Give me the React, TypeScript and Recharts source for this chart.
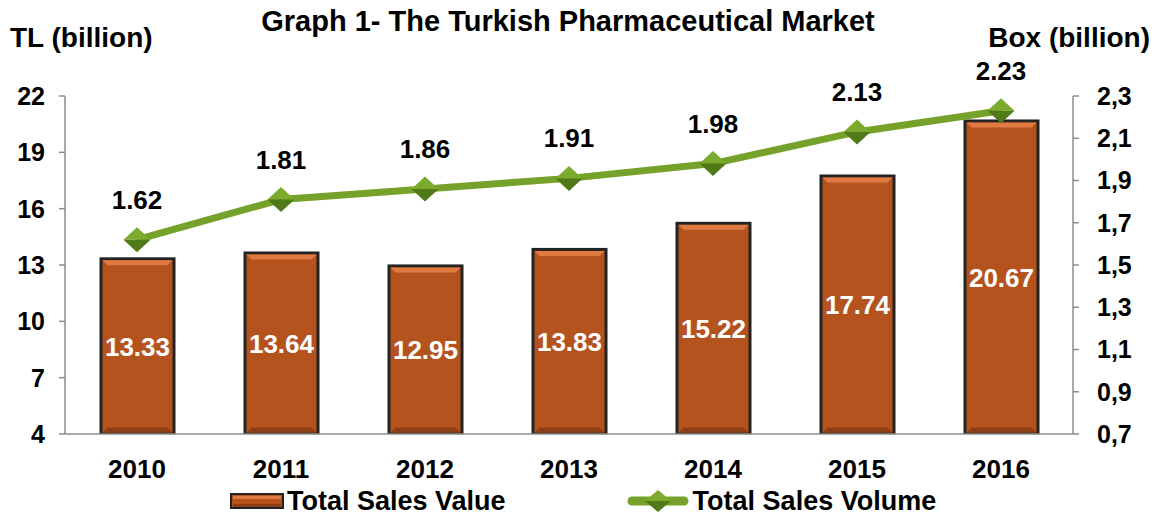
import React from 'react';
import {
  ComposedChart,
  Bar,
  Line,
  XAxis,
  YAxis,
  LabelList,
  Legend,
} from 'recharts';

const years = ['2010', '2011', '2012', '2013', '2014', '2015', '2016'];
const salesValue = [13.33, 13.64, 12.95, 13.83, 15.22, 17.74, 20.67];
const salesVolume = [1.62, 1.81, 1.86, 1.91, 1.98, 2.13, 2.23];
const leftTicks = [4, 7, 10, 13, 16, 19, 22];
const rightTicks = [0.7, 0.9, 1.1, 1.3, 1.5, 1.7, 1.9, 2.1, 2.3];

const data = years.map((y, i) => ({ year: y, value: salesValue[i], volume: salesVolume[i] }));

const font = '"Liberation Sans", Arial, sans-serif';
const axisColor = '#8c8c8c';
const barFill = '#b5531f';
const lineColor = '#76a12a';

function BevelBar(props: any) {
  const { x, y, width, height } = props;
  if (!height || height <= 0) return null;
  const b = 5;
  return (
    <g>
      <rect x={x} y={y} width={width} height={height} fill={barFill} stroke="#232323" strokeWidth={3} />
      <polygon
        points={`${x + 1.5},${y + 1.5} ${x + width - 1.5},${y + 1.5} ${x + width - 1.5 - b},${y + 1.5 + b} ${x + 1.5 + b},${y + 1.5 + b}`}
        fill="#e07a40"
      />
      <polygon
        points={`${x + 1.5},${y + height - 1.5} ${x + width - 1.5},${y + height - 1.5} ${x + width - 1.5 - b},${y + height - 1.5 - b} ${x + 1.5 + b},${y + height - 1.5 - b}`}
        fill="#8e3e14"
      />
    </g>
  );
}

function Diamond(props: any) {
  const { cx, cy, index } = props;
  if (cx == null || cy == null) return null;
  const rx = 13.5;
  const ry = 12.5;
  return (
    <g key={`d-${index}`}>
      <polygon points={`${cx - rx},${cy} ${cx},${cy - ry} ${cx + rx},${cy}`} fill="#7aab2c" />
      <polygon points={`${cx - rx},${cy} ${cx},${cy + ry} ${cx + rx},${cy}`} fill="#4f7a17" />
    </g>
  );
}

function LegendBox() {
  const txt = { fontFamily: font, fontWeight: 700, fontSize: 27, color: '#000', lineHeight: '30px' };
  return (
    <div style={{ display: 'flex', alignItems: 'center', height: 34, paddingLeft: 230 }}>
      <svg width={54} height={18}>
        <rect x={1} y={2} width={52} height={14} fill={barFill} stroke="#232323" strokeWidth={2} />
        <rect x={3} y={4} width={48} height={3} fill="#e07a40" />
        <rect x={3} y={12} width={48} height={3} fill="#8e3e14" />
      </svg>
      <span style={{ ...txt, marginLeft: 3 }}>Total Sales Value</span>
      <svg width={62} height={28} style={{ marginLeft: 121 }}>
        <line x1={5} y1={14} x2={57} y2={14} stroke={lineColor} strokeWidth={9} strokeLinecap="round" />
        <polygon points="18,14 31,3 44,14" fill="#7aab2c" />
        <polygon points="18,14 31,25 44,14" fill="#4f7a17" />
      </svg>
      <span style={{ ...txt, marginLeft: 4 }}>Total Sales Volume</span>
    </div>
  );
}

export default function App() {
  const tickStyle = { fontFamily: font, fontWeight: 700, fontSize: 25, fill: '#000' };
  const headStyle = { fontFamily: font, fontWeight: 700, color: '#000' };
  return (
    <div style={{ position: 'absolute', left: 0, top: 0, width: 1160, height: 518, background: '#fff' }}>
      <div style={{ ...headStyle, position: 'absolute', left: -12, width: 1160, top: 5, textAlign: 'center', fontSize: 29 }}>
        Graph 1- The Turkish Pharmaceutical Market
      </div>
      <div style={{ ...headStyle, position: 'absolute', left: 10, top: 22, fontSize: 28 }}>
        TL (billion)
      </div>
      <div style={{ ...headStyle, position: 'absolute', right: 10, top: 22, fontSize: 28 }}>
        Box (billion)
      </div>
      <ComposedChart
        width={1160}
        height={518}
        data={data}
        margin={{ top: 96, right: 0, left: 0, bottom: 0 }}
      >
        <XAxis
          dataKey="year"
          height={50}
          tickLine={false}
          axisLine={{ stroke: axisColor, strokeWidth: 1.5 }}
          tick={{ ...tickStyle, fontSize: 26 }}
          tickMargin={20}
        />
        <YAxis
          yAxisId="left"
          orientation="left"
          width={65}
          domain={[4, 22]}
          ticks={leftTicks}
          interval={0}
          tick={tickStyle}
          tickSize={6}
          tickMargin={14}
          tickLine={{ stroke: axisColor, strokeWidth: 1.5 }}
          axisLine={{ stroke: axisColor, strokeWidth: 1.5 }}
          allowDataOverflow
        />
        <YAxis
          yAxisId="right"
          orientation="right"
          width={87}
          domain={[0.7, 2.3]}
          ticks={rightTicks}
          interval={0}
          tick={{ ...tickStyle, textAnchor: 'start' }}
          tickFormatter={(v: number) => v.toFixed(1).replace('.', ',')}
          tickSize={6}
          tickMargin={18}
          tickLine={{ stroke: axisColor, strokeWidth: 1.5 }}
          axisLine={{ stroke: axisColor, strokeWidth: 1.5 }}
          allowDataOverflow
        />
        <Legend verticalAlign="bottom" content={<LegendBox />} wrapperStyle={{ height: 34 }} />
        <Bar
          yAxisId="left"
          dataKey="value"
          name="Total Sales Value"
          barSize={73}
          shape={<BevelBar />}
          isAnimationActive={false}
        >
          <LabelList
            dataKey="value"
            position="center"
            formatter={(v: any) => Number(v).toFixed(2)}
            style={{ fontFamily: font, fontWeight: 700, fontSize: 26, fill: '#fff' }}
          />
        </Bar>
        <Line
          yAxisId="right"
          dataKey="volume"
          name="Total Sales Volume"
          stroke={lineColor}
          strokeWidth={7}
          dot={<Diamond />}
          activeDot={false}
          isAnimationActive={false}
        >
          <LabelList
            dataKey="volume"
            position="top"
            offset={31}
            formatter={(v: any) => Number(v).toFixed(2)}
            style={{ fontFamily: font, fontWeight: 700, fontSize: 26, fill: '#000' }}
          />
        </Line>
      </ComposedChart>
    </div>
  );
}
